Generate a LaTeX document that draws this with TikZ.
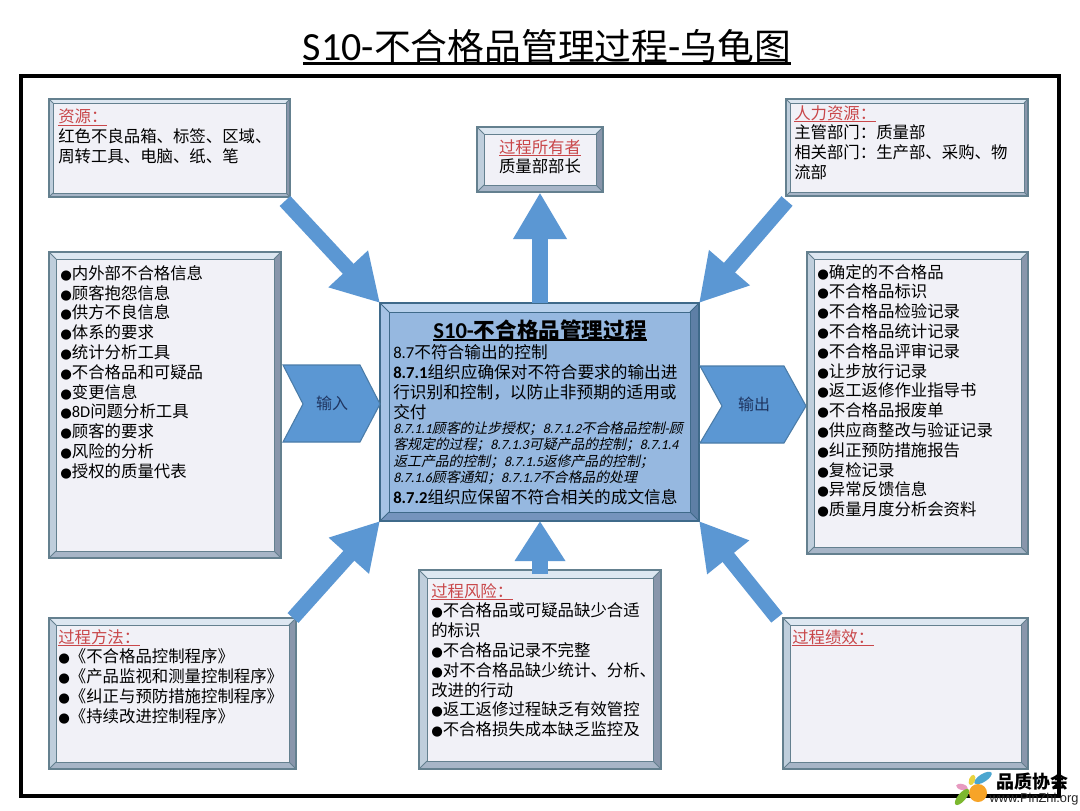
\documentclass[tikz,border=0pt]{standalone}
\usepackage{fontspec}
\usetikzlibrary{arrows.meta}
\setmainfont{Noto Sans CJK SC}
\newfontfamily\lat{Carlito}
\newfontfamily\cjkit[FakeSlant=0.22]{Noto Sans CJK SC}
\newfontfamily\latit[FakeSlant=0.22]{Carlito}
\newfontfamily\dv{DejaVu Sans}
\newfontfamily\ls{Liberation Sans}
\newcommand\ulx[3][-2pt]{\setbox0\hbox{#3}\rlap{\rule[#1]{\wd0}{#2}}\box0}
\newcommand\bl{{\dv\fontsize{10pt}{10pt}\selectfont ●}}
\newcommand\redh[1]{{\color{redhead}\ulx{0.6pt}{#1}}}
\definecolor{redhead}{HTML}{C9474A}
\definecolor{arrowblue}{HTML}{5B97D3}
\definecolor{pentline}{HTML}{4A7CA8}
\definecolor{navytext}{HTML}{1F3560}
\definecolor{gface}{HTML}{F1F1F7}
\definecolor{gtop}{HTML}{DDE7F1}
\definecolor{gleft}{HTML}{BFCEDC}
\definecolor{gright}{HTML}{8996AB}
\definecolor{gbottom}{HTML}{A7B5C7}
\definecolor{gline}{HTML}{64808F}
\definecolor{bface}{HTML}{96B8E0}
\definecolor{btop}{HTML}{B7D0EC}
\definecolor{bleft}{HTML}{A6C3E5}
\definecolor{bright}{HTML}{5E7FA6}
\definecolor{bbottom}{HTML}{7594BD}
\definecolor{bline}{HTML}{3F6A8A}
\tikzset{
  boxframe/.style={draw=#1line,line width=0.9pt,inner sep=0pt,outer sep=0pt},
  txt/.style={anchor=north west,inner sep=0pt,align=left,font=\fontsize{12.3pt}{14.85pt}\selectfont},
  ptxt/.style={anchor=north west,inner sep=0pt,align=left,font=\fontsize{12.5pt}{14.85pt}\selectfont},
  bigarrow/.style={draw=arrowblue,line width=11pt,-{Triangle[length=35pt,width=38pt]}},
  pent/.style={fill=arrowblue,draw=pentline,line width=0.8pt,line join=miter},
  penttxt/.style={text=navytext,font=\fontsize{12pt}{14pt}\selectfont,inner sep=0pt}
}
% name, x0,y0,x1,y1, bevel, palette
\newcommand\bev[7]{%
  \pgfmathsetmacro\bw{(#4-#2)*0.75}\pgfmathsetmacro\bh{(#5-#3)*0.75}%
  \node[boxframe=#7,fill=#7face,minimum width=\bw pt,minimum height=\bh pt] (#1) at ({(#2+#4)/2},{(#3+#5)/2}) {};
  \fill[#7top] (#2,#3)--(#4,#3)--({#4-#6},{#3+#6})--({#2+#6},{#3+#6})--cycle;
  \fill[#7left] (#2,#3)--({#2+#6},{#3+#6})--({#2+#6},{#5-#6})--(#2,#5)--cycle;
  \fill[#7right] (#4,#3)--({#4-#6},{#3+#6})--({#4-#6},{#5-#6})--(#4,#5)--cycle;
  \fill[#7bottom] (#2,#5)--({#2+#6},{#5-#6})--({#4-#6},{#5-#6})--(#4,#5)--cycle;
  \draw[#7line,line width=0.6pt] (#2,#3)--({#2+#6},{#3+#6}) (#4,#3)--({#4-#6},{#3+#6}) (#2,#5)--({#2+#6},{#5-#6}) (#4,#5)--({#4-#6},{#5-#6});
  \draw[#7line,line width=0.7pt] ({#2+#6},{#3+#6}) rectangle ({#4-#6},{#5-#6});
  \draw[#7line,line width=0.9pt] (#2,#3) rectangle (#4,#5);
}
\begin{document}
\begin{tikzpicture}[x=0.75pt,y=-0.75pt]
\useasboundingbox (0,0) rectangle (1080,810);
\fill[white] (0,0) rectangle (1080,810);
% title
\node[inner sep=0pt,font=\fontsize{27.6pt}{30pt}\selectfont] (title) at (547,47) {\ulx[-3pt]{1.9pt}{{\lat\fontsize{30pt}{30pt}\selectfont S10-}不合格品管理过程{\lat\fontsize{30pt}{30pt}\selectfont -}乌龟图}};
% frame
\node[draw=black,line width=2.8pt,inner sep=0pt,minimum width=778.5pt,minimum height=540pt] (frame) at (540,436) {};
% boxes
\bev{res}{49}{99}{290}{197}{4}{g}
\bev{owner}{477}{127}{603}{192}{7}{g}
\bev{hr}{786}{99}{1028}{196}{4}{g}
\bev{inp}{49}{252}{281}{558}{7}{g}
\bev{outp}{807}{252}{1028}{554}{7}{g}
\bev{proc}{380}{303}{699}{521}{9}{b}
\bev{meth}{49}{618}{296}{769}{7}{g}
\bev{risk}{419}{570}{661}{769}{8}{g}
\bev{perf}{783}{618}{1028}{769}{7}{g}
% arrows
\coordinate (tl) at (285,201);
\coordinate (tr) at (787,201);
\coordinate (bl) at (293,618);
\coordinate (br) at (777,618);
\coordinate (upt) at (540,303);
\coordinate (upb) at (540,192.5);
\coordinate (dnb) at (540,574);
\coordinate (dnt) at (540,521);
\draw[bigarrow] (tl) -- (proc.north west);
\draw[bigarrow] (tr) -- (proc.north east);
\draw[bigarrow] (bl) -- (proc.south west);
\draw[bigarrow] (br) -- (proc.south east);
\draw[bigarrow,line width=12pt] (upt) -- (upb);
\draw[bigarrow,line width=12pt,-{Triangle[length=30pt,width=36pt]}] (dnb) -- (dnt);
% pentagons
\draw[pent] (283,365)--(360,365)--(380,404)--(360,442)--(283,442)--(303,404)--cycle;
\node[penttxt] (intxt) at (332,403) {输入};
\draw[pent] (700,366)--(784,366)--(806,406)--(784,443)--(700,443)--(722,406)--cycle;
\node[penttxt] (outtxt) at (754,404) {输出};
% texts
\node[txt] (rest) at (58,109) {\redh{资源：}\\红色不良品箱、标签、区域、\\周转工具、电脑、纸、笔};
\node[txt,anchor=north,align=center] (ownert) at (540,139) {\redh{过程所有者}\\质量部部长};
\node[txt] (hrt) at (794,105) {\redh{人力资源：}\\主管部门：质量部\\相关部门：生产部、采购、物\\流部};
\node[txt] (inpt) at (60,265) {\bl 内外部不合格信息\\\bl 顾客抱怨信息\\\bl 供方不良信息\\\bl 体系的要求\\\bl 统计分析工具\\\bl 不合格品和可疑品\\\bl 变更信息\\\bl {\lat 8D}问题分析工具\\\bl 顾客的要求\\\bl 风险的分析\\\bl 授权的质量代表};
\node[txt] (outpt) at (817,264) {\bl 确定的不合格品\\\bl 不合格品标识\\\bl 不合格品检验记录\\\bl 不合格品统计记录\\\bl 不合格品评审记录\\\bl 让步放行记录\\\bl 返工返修作业指导书\\\bl 不合格品报废单\\\bl 供应商整改与验证记录\\\bl 纠正预防措施报告\\\bl 复检记录\\\bl 异常反馈信息\\\bl 质量月度分析会资料};
\node[inner sep=0pt,font=\fontsize{16.2pt}{18pt}\selectfont\bfseries] (proct) at (540,330) {\ulx{1pt}{{\lat\fontsize{17pt}{18pt}\selectfont\bfseries S10-}不合格品管理过程}};
\node[ptxt] (procb) at (393,344.5) {{\lat 8.7}不符合输出的控制\\{\lat\bfseries 8.7.1}组织应确保对不符合要求的输出进\\行识别和控制，以防止非预期的适用或\\交付};
\node[txt,font=\fontsize{10.4pt}{12.3pt}\selectfont\cjkit] (procc) at (393,421.5) {{\latit 8.7.1.1}顾客的让步授权；{\latit 8.7.1.2}不合格品控制{\latit -}顾\\客规定的过程；{\latit 8.7.1.3}可疑产品的控制；{\latit 8.7.1.4}\\返工产品的控制；{\latit 8.7.1.5}返修产品的控制；\\{\latit 8.7.1.6}顾客通知；{\latit 8.7.1.7}不合格品的处理};
\node[ptxt] (procd) at (393,489) {{\lat\bfseries 8.7.2}组织应保留不符合相关的成文信息};
\node[txt] (metht) at (58,629) {\redh{过程方法：}\\\bl《不合格品控制程序》\\\bl《产品监视和测量控制程序》\\\bl《纠正与预防措施控制程序》\\\bl《持续改进控制程序》};
\node[txt] (riskt) at (431,583) {\redh{过程风险：}\\\bl 不合格品或可疑品缺少合适\\的标识\\\bl 不合格品记录不完整\\\bl 对不合格品缺少统计、分析、\\改进的行动\\\bl 返工返修过程缺乏有效管控\\\bl 不合格损失成本缺乏监控及};
\node[txt] (perft) at (792,629) {\redh{过程绩效：}};
% watermark
\definecolor{lgblue}{HTML}{4BA6D0}
\definecolor{lgyellow}{HTML}{E8D33F}
\definecolor{lgpink}{HTML}{E79AC0}
\definecolor{lggreen}{HTML}{7CB82F}
\definecolor{lgorange}{HTML}{F7A428}
\fill[lgblue,rotate around={32:(983,778)}] (983,778) ellipse (10 and 4);
\fill[lgyellow,rotate around={70:(972,780)}] (972,780) ellipse (5.5 and 3);
\fill[lgpink,rotate around={-15:(962,787)}] (962,787) ellipse (6 and 3);
\fill[lggreen,rotate around={50:(962,797)}] (962,797) ellipse (10 and 4);
\fill[lgorange] (978,793) circle (9);
\node[inner sep=0pt,font=\fontsize{13.5pt}{15pt}\selectfont\bfseries] (logo) at (1032,782) {品质协会};
\node[inner sep=0pt,font=\ls\fontsize{9.6pt}{11pt}\selectfont,text=black!85] (logourl) at (1034,799) {www.PinZhi.org};
\end{tikzpicture}
\end{document}
